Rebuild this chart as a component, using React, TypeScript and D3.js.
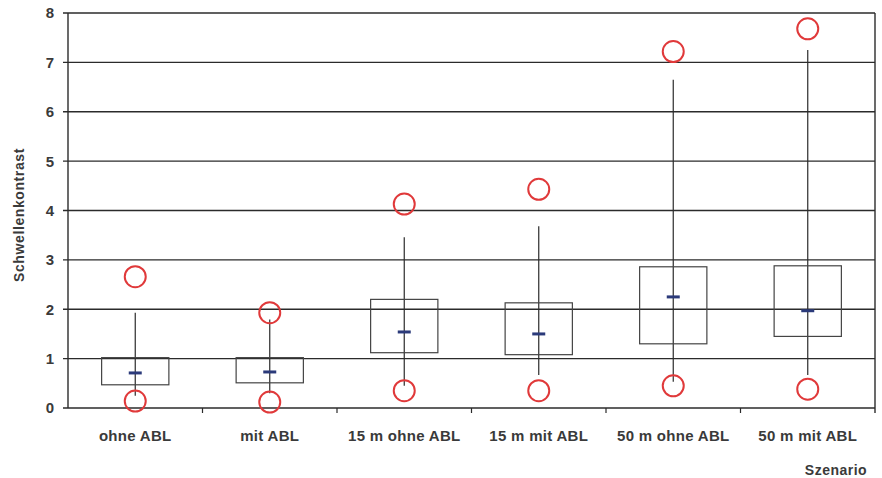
import { useEffect, useRef } from "react";
import * as d3 from "d3";

// Szenarien und Kennwerte
const categories = ["ohne ABL", "mit ABL", "15 m ohne ABL", "15 m mit ABL", "50 m ohne ABL", "50 m mit ABL"];
const q1 = [0.47, 0.51, 1.12, 1.08, 1.3, 1.45];
const q3 = [1.02, 1.02, 2.2, 2.13, 2.86, 2.88];
const medians = [0.71, 0.73, 1.54, 1.5, 2.25, 1.97];
const whiskerLow = [0.25, 0.3, 0.45, 0.67, 0.53, 0.67];
const whiskerHigh = [1.93, 1.79, 3.46, 3.68, 6.65, 7.25];
const minValues = [0.14, 0.12, 0.35, 0.35, 0.45, 0.38];
const maxValues = [2.66, 1.93, 4.13, 4.43, 7.22, 7.68];
const yTicks = [0, 1, 2, 3, 4, 5, 6, 7, 8];

export default function App() {
  const ref = useRef<SVGSVGElement>(null);

  useEffect(() => {
    const svg = d3.select(ref.current);
    svg.selectAll("*").remove();

    const width = 882;
    const height = 478;
    const margin = { top: 13, right: 7, bottom: 70, left: 68 };
    const ink = "#2b2b2b";
    const textCol = "#3a3a3a";
    const font = "Arial, 'Liberation Sans', sans-serif";

    const x = d3.scaleBand().domain(categories).range([margin.left, width - margin.right]).padding(0);
    const y = d3.scaleLinear().domain([0, 8]).range([height - margin.bottom, margin.top]);

    // Gitterlinien
    svg.append("g").selectAll("line").data(yTicks).join("line")
      .attr("x1", margin.left - 5).attr("x2", width - margin.right)
      .attr("y1", (d) => y(d)).attr("y2", (d) => y(d))
      .attr("stroke", ink).attr("stroke-width", 1.4);

    // Rahmen links/rechts
    svg.append("line").attr("x1", margin.left).attr("x2", margin.left)
      .attr("y1", y(8)).attr("y2", y(0)).attr("stroke", ink).attr("stroke-width", 1.4);
    svg.append("line").attr("x1", width - margin.right).attr("x2", width - margin.right)
      .attr("y1", y(8)).attr("y2", y(0) + 5).attr("stroke", ink).attr("stroke-width", 1.4);

    // X-Ticks an den Kategoriegrenzen
    svg.append("g").selectAll("line").data(categories.slice(1)).join("line")
      .attr("x1", (d) => x(d)!).attr("x2", (d) => x(d)!)
      .attr("y1", y(0)).attr("y2", y(0) + 5)
      .attr("stroke", ink).attr("stroke-width", 1.2);

    // Y-Beschriftung
    svg.append("g").selectAll("text").data(yTicks).join("text")
      .attr("x", margin.left - 14).attr("y", (d) => y(d)).attr("dy", "0.36em")
      .attr("text-anchor", "end").attr("font-family", font).attr("font-size", 15)
      .attr("font-weight", "bold").attr("fill", textCol).text((d) => d);

    svg.append("text")
      .attr("transform", `translate(24,215) rotate(-90)`)
      .attr("text-anchor", "middle").attr("font-family", font).attr("font-size", 14)
      .attr("letter-spacing", 0.6)
      .attr("font-weight", "bold").attr("fill", textCol).text("Schwellenkontrast");

    // X-Beschriftung
    svg.append("g").selectAll("text").data(categories).join("text")
      .attr("x", (d) => x(d)! + x.bandwidth() / 2).attr("y", y(0) + 33)
      .attr("text-anchor", "middle").attr("font-family", font).attr("font-size", 15)
      .attr("letter-spacing", 0.3)
      .attr("font-weight", "bold").attr("fill", textCol).text((d) => d);

    svg.append("text").attr("x", 836).attr("y", 475)
      .attr("text-anchor", "middle").attr("font-family", font).attr("font-size", 14)
      .attr("letter-spacing", 0.5)
      .attr("font-weight", "bold").attr("fill", textCol).text("Szenario");

    const cx = (i: number) => x(categories[i])! + x.bandwidth() / 2;
    const bw = x.bandwidth() * 0.5;
    const idx = categories.map((_, i) => i);

    const g = svg.append("g");
    // Whisker
    g.selectAll("line.whisker").data(idx).join("line").attr("class", "whisker")
      .attr("x1", cx).attr("x2", cx)
      .attr("y1", (i) => y(whiskerHigh[i])).attr("y2", (i) => y(whiskerLow[i]))
      .attr("stroke", ink).attr("stroke-width", 1.2);
    // Boxen
    g.selectAll("rect").data(idx).join("rect")
      .attr("x", (i) => cx(i) - bw / 2).attr("width", bw)
      .attr("y", (i) => y(q3[i])).attr("height", (i) => y(q1[i]) - y(q3[i]))
      .attr("fill", "none").attr("stroke", "#444").attr("stroke-width", 1.2);
    // Median
    g.selectAll("line.median").data(idx).join("line").attr("class", "median")
      .attr("x1", (i) => cx(i) - 6.5).attr("x2", (i) => cx(i) + 6.5)
      .attr("y1", (i) => y(medians[i])).attr("y2", (i) => y(medians[i]))
      .attr("stroke", "#2b3a7a").attr("stroke-width", 3);
    // Min/Max Kreise
    const pts = idx.flatMap((i) => [{ i, v: minValues[i] }, { i, v: maxValues[i] }]);
    g.selectAll("circle").data(pts).join("circle")
      .attr("cx", (d) => cx(d.i)).attr("cy", (d) => y(d.v)).attr("r", 10.5)
      .attr("fill", "none").attr("stroke", "#e0393a").attr("stroke-width", 2);
  }, []);

  return (
    <div style={{ position: "absolute", left: 0, top: 0, background: "#fff" }}>
      <svg ref={ref} width={882} height={478} style={{ display: "block" }} />
    </div>
  );
}
